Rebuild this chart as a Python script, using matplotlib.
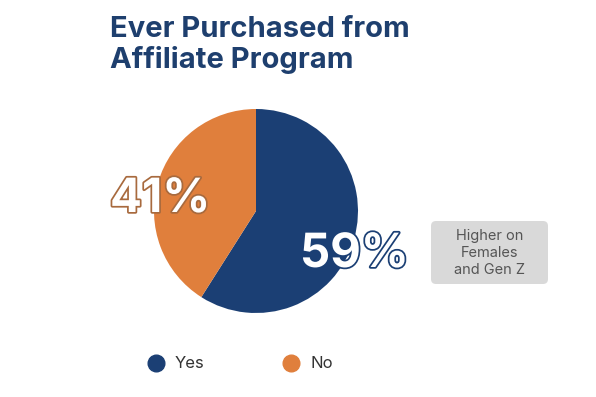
import matplotlib.pyplot as plt
import matplotlib.patheffects as pe
from matplotlib.patches import FancyBboxPatch

labels = ["Yes", "No"]
shares = [59, 41]
colors = ["#1b3f74", "#e07f3c"]
title = "Ever Purchased from\nAffiliate Program"
note = "Higher on\nFemales\nand Gen Z"

plt.rcParams['font.family'] = ['Inter', 'DejaVu Sans']

W, H = 596, 397
fig = plt.figure(figsize=(W / 100, H / 100), dpi=100)

# pie in its own square axes
cx, cy, r = 256, 211, 102
pax = fig.add_axes([(cx - r) / W, (H - cy - r) / H, 2 * r / W, 2 * r / H], zorder=1)
pax.pie(shares, colors=colors, startangle=90, counterclock=False,
        wedgeprops=dict(linewidth=0))
pax.set_xlim(-1, 1)
pax.set_ylim(-1, 1)
pax.set_aspect("equal")
pax.axis("off")

# overlay in pixel coordinates
bg = fig.add_axes([0, 0, 1, 1], zorder=2)
bg.patch.set_alpha(0)
bg.set_xlim(0, W)
bg.set_ylim(H, 0)
bg.axis("off")

bg.text(110, 16, title, fontsize=21, fontweight="bold", color="#1e3f6e",
        va="top", ha="left", linespacing=1.12)

# percentage labels
bg.text(110, 200, f"{shares[1]}%", fontsize=34, fontweight="bold", color="white",
        va="center", ha="left",
        path_effects=[pe.withStroke(linewidth=2.5, foreground="#a86a3e")])
bg.text(300, 255, f"{shares[0]}%", fontsize=34, fontweight="bold", color="white",
        va="center", ha="left",
        path_effects=[pe.withStroke(linewidth=2.5, foreground=colors[0])])

# note box
box = FancyBboxPatch((431, 221), 117, 63, boxstyle="round,pad=0,rounding_size=5",
                     facecolor="#d9d9d9", edgecolor="none")
bg.add_patch(box)
bg.text(489.5, 253, note, fontsize=10.5, color="#555555", ha="center", va="center",
        linespacing=1.3)

# legend
leg_x = [156, 291]
for x, lab, c in zip(leg_x, labels, colors):
    bg.plot(x, 363, marker="o", markersize=12, color=c, linestyle="none")
    bg.text(x + 19, 363, lab, fontsize=12, color="#333333", va="center", ha="left")

fig.savefig("out.png", dpi=100, facecolor="white")
